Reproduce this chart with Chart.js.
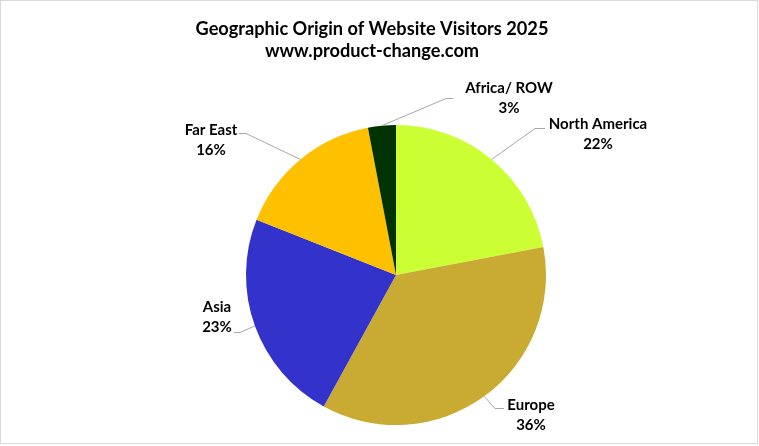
<!DOCTYPE html>
<html>
<head>
<meta charset="utf-8">
<script src="https://cdn.jsdelivr.net/npm/chart.js@4/dist/chart.umd.min.js"></script>
<style>
  body { margin: 0; background: #fff; }
</style>
</head>
<body>
<canvas id="origin" width="759" height="446"></canvas>
<script>
/** GEOGRAPHIC ORIGIN PIE **/

var regions = ["North America", "Europe", "Asia", "Far East", "Africa/ ROW"];
var shares = [22, 36, 23, 16, 3];
var sliceColors = ['#CCFF33', '#C9AA33', '#3333CC', '#FFC000', '#003300'];

// label layout: text centre + leader elbow + stub end
var labelSpots = [
    { x: 598, y: 124, elbow: [535, 128], stub: [545, 128] },
    { x: 531, y: 405, elbow: [495, 408], stub: [504, 408] },
    { x: 217, y: 307, elbow: [240, 332], stub: [234, 332] },
    { x: 211, y: 130, elbow: [246, 133], stub: [239, 133] },
    { x: 509, y: 88,  elbow: [446, 98],  stub: [453, 98] }
];

var pieLabels = {
    id: 'pieLabels',
    afterDraw: function (chart) {
        var ctx = chart.ctx;
        var arcs = chart.getDatasetMeta(0).data;
        ctx.save();

        // frame
        ctx.strokeStyle = '#d9d9d9';
        ctx.lineWidth = 1;
        ctx.strokeRect(0.5, 0.5, 757, 443);

        // title
        ctx.fillStyle = '#000';
        ctx.textAlign = 'center';
        ctx.textBaseline = 'middle';
        ctx.font = 'bold 18.2px Lato';
        ctx.fillText('Geographic Origin of Website Visitors 2025', 372, 29);
        ctx.fillText('www.product-change.com', 372, 51);

        ctx.font = 'bold 15px Lato';
        arcs.forEach(function (arc, i) {
            var mid = (arc.startAngle + arc.endAngle) / 2;
            var ex = arc.x + Math.cos(mid) * arc.outerRadius;
            var ey = arc.y + Math.sin(mid) * arc.outerRadius;
            var spot = labelSpots[i];

            ctx.strokeStyle = '#a6a6a6';
            ctx.beginPath();
            ctx.moveTo(ex, ey);
            ctx.lineTo(spot.elbow[0], spot.elbow[1] + 0.5);
            ctx.lineTo(spot.stub[0], spot.stub[1] + 0.5);
            ctx.stroke();

            ctx.fillStyle = '#000';
            ctx.fillText(regions[i], spot.x, spot.y);
            ctx.fillText(shares[i] + '%', spot.x, spot.y + 20);
        });
        ctx.restore();
    }
};

var origin = new Chart(document.getElementById("origin"), {
    type: 'pie',
    data: {
        labels: regions,
        datasets: [{
            data: shares,
            backgroundColor: sliceColors,
            borderWidth: 0
        }]
    },
    options: {
        responsive: false,
        animation: false,
        layout: {
            padding: { top: 125, bottom: 21, left: 246, right: 213 }
        },
        plugins: {
            legend: { display: false },
            tooltip: { enabled: false }
        }
    },
    plugins: [pieLabels]
});
</script>
</body>
</html>
